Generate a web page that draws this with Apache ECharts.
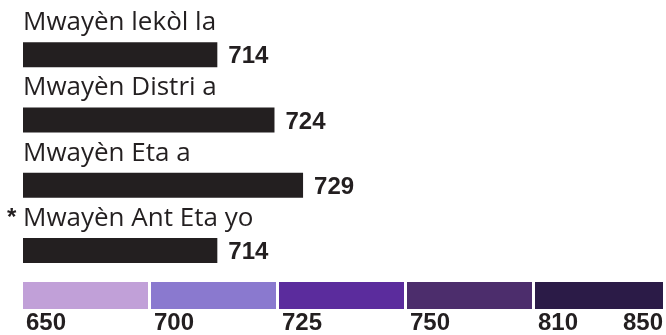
<!DOCTYPE html>
<html>
<head>
<meta charset="utf-8">
<script src="https://cdn.jsdelivr.net/npm/echarts@6/dist/echarts.min.js"></script>
<style>
  html, body { margin: 0; padding: 0; background: #fff; }
  #chart { width: 666px; height: 335px; }
</style>
</head>
<body>
<div id="chart"></div>
<script>
// Average scores by level
const categories = ['Mwayèn lekòl la', 'Mwayèn Distri a', 'Mwayèn Eta a', 'Mwayèn Ant Eta yo'];
const scores = [714, 724, 729, 714];
const marks = ['', '', '', '*'];

// Performance scale: break points and band colours
const scaleBreaks = [650, 700, 725, 750, 810, 850];
const scaleColors = ['#C1A0D8', '#8A79CF', '#5B2C9D', '#4C2D6C', '#2B1B47'];

const ink = '#231F20';
const chart = echarts.init(document.getElementById('chart'));

// one band per pair of neighbouring break points, in index space
const bands = scaleColors.map((c, i) => [i, i + 1, i]);

const option = {
  animation: false,
  grid: [
    { left: 23, top: 22, right: 0, height: 261 },
    { left: 23, top: 282, right: -2, height: 29 }
  ],
  xAxis: [
    { gridIndex: 0, type: 'value', min: 680, max: 792.5, show: false },
    {
      gridIndex: 1, type: 'value', min: 0, max: 5, interval: 1,
      axisLine: { show: false }, axisTick: { show: false }, splitLine: { show: false },
      axisLabel: {
        formatter: v => String(scaleBreaks[v]),
        align: 'left', alignMaxLabel: 'right', margin: 2,
        padding: [0, 0, 0, 3],
        fontFamily: 'Liberation Sans', fontWeight: 'bold', fontSize: 24, color: ink
      }
    }
  ],
  yAxis: [
    {
      gridIndex: 0, type: 'category', data: categories, inverse: true,
      axisLine: { show: false }, axisTick: { show: false }, splitLine: { show: false },
      axisLabel: {
        align: 'left', margin: 18,
        padding: [0, 0, 64, 0],
        formatter: (v, i) => '{m|' + (marks[i] || '\u00a0') + '}{t|' + v + '}',
        rich: {
          m: { width: 16, padding: [0, 0, 0, 2], fontFamily: 'Liberation Sans', fontWeight: 'bold', fontSize: 24, color: ink },
          t: { fontFamily: 'Open Sans', fontSize: 26, color: ink }
        }
      }
    },
    { gridIndex: 1, type: 'value', min: 0, max: 1, show: false }
  ],
  series: [
    {
      type: 'bar', xAxisIndex: 0, yAxisIndex: 0,
      data: scores, barWidth: 25,
      itemStyle: { color: ink },
      label: {
        show: true, position: 'right', distance: 11, offset: [0, 2],
        fontFamily: 'Liberation Sans', fontWeight: 'bold', fontSize: 24, color: ink
      }
    },
    {
      type: 'custom', xAxisIndex: 1, yAxisIndex: 1,
      data: bands,
      encode: { x: [0, 1] },
      renderItem: (params, api) => {
        const s = api.coord([api.value(0), 1]);
        const e = api.coord([api.value(1), 0]);
        const last = params.dataIndex === scaleColors.length - 1;
        return {
          type: 'rect',
          shape: { x: s[0], y: s[1], width: e[0] - s[0] - (last ? 0 : 3), height: e[1] - s[1] },
          style: { fill: scaleColors[api.value(2)] }
        };
      }
    }
  ]
};

chart.setOption(option);
</script>
</body>
</html>
